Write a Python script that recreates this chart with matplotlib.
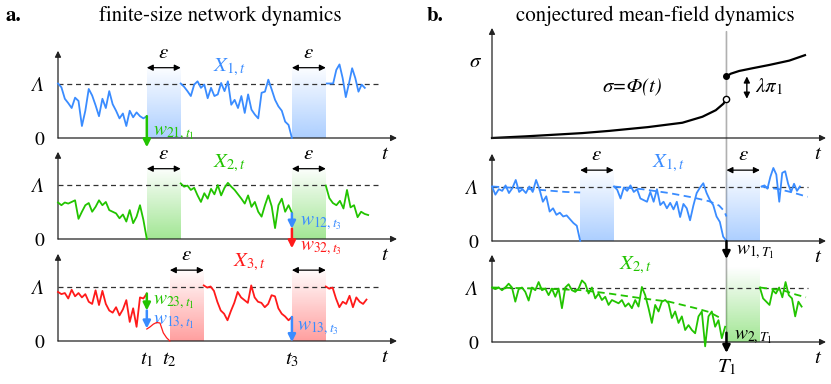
import matplotlib

matplotlib.use("Agg")
import matplotlib.pyplot as plt  # noqa: E402
import numpy as np  # noqa: E402
from matplotlib.colors import to_rgb  # noqa: E402
from matplotlib.patches import ConnectionPatch  # noqa: E402

plt.rcParams["font.family"] = "STIXGeneral"
plt.rcParams["mathtext.fontset"] = "stix"

BLUE, GREEN, RED = "#3a8cff", "#22c400", "#ff1a1a"
LAMBDA = 1.0
EPS = 1.0

# ---- panel a: finite-size network, event times ----
T1_A, T2_A, T3_A = 2.62, 3.30, 6.90

# trace segments: (t_start, t_end)
X1_A = [
    (0.0, 2.62, [1.0, 0.93, 0.72, 0.64, 0.55, 0.74, 0.68, 0.22, 0.5, 0.9, 0.78, 0.6, 0.4, 0.72,
                 0.55, 0.86, 0.62, 0.5, 0.36, 0.45, 0.22, 0.5, 0.38, 0.47, 0.4, 0.36, 0.4]),
    (3.62, 6.90, [1.0, 0.94, 0.86, 0.77, 0.98, 1.04, 0.92, 0.98, 0.73, 0.92, 0.77, 0.8, 1.01, 0.86,
                  1.04, 0.61, 0.7, 0.55, 0.77, 0.46, 0.8, 0.52, 0.43, 0.36, 0.83, 0.85, 1.07, 0.89,
                  0.7, 0.58, 0.5, 0.3, 0.24, 0.0]),
    (7.93, 9.05, [1.0, 1.0, 1.0, 1.25, 1.35, 1.1, 0.75, 1.0, 1.28, 1.1, 0.85, 0.98, 0.92]),
]
X2_A = [
    (0.0, 2.62, [0.67, 0.62, 0.67, 0.65, 0.68, 0.71, 0.37, 0.5, 0.62, 0.66, 0.5, 0.59, 0.71, 0.62,
                 0.68, 0.53, 0.5, 0.47, 0.38, 0.45, 0.32, 0.53, 0.29, 0.41, 0.62, 0.35, 0.0]),
    (3.62, 6.90, [1.02, 0.96, 0.98, 0.9, 0.94, 0.8, 0.68, 0.84, 0.74, 0.92, 0.82, 0.99, 0.8, 0.94,
                  1.03, 0.96, 0.9, 0.82, 0.74, 0.65, 0.8, 0.59, 0.68, 0.5, 0.41, 0.62, 0.8, 0.6,
                  0.2, 0.62, 0.74, 0.5, 0.62, 0.48]),
    (7.90, 9.15, [0.98, 0.75, 0.66, 0.62, 0.7, 0.56, 0.9, 0.58, 0.62, 0.4, 0.5, 0.46, 0.44]),
]
X3_A = [
    (0.0, 2.62, [0.9, 0.86, 0.88, 0.78, 0.94, 0.82, 0.88, 0.8, 0.86, 0.72, 0.68, 0.93, 0.66, 0.92,
                 0.68, 0.56, 0.52, 0.62, 0.47, 0.58, 0.75, 0.35, 0.6, 0.26, 0.8, 0.78, 0.87]),
    (4.30, 6.90, [1.02, 0.98, 1.0, 0.92, 0.72, 0.56, 0.5, 0.38, 0.55, 0.7, 0.9, 0.8, 0.75, 0.7,
                  1.02, 0.8, 0.72, 0.7, 0.62, 0.68, 0.84, 0.82, 0.6, 0.5, 0.45, 0.38, 0.44]),
    (7.90, 9.10, [1.0, 0.96, 0.98, 0.78, 0.62, 0.72, 0.68, 0.83, 0.62, 0.8, 0.72, 0.68, 0.76]),
]
# X3 after the two kicks at t1, falling to 0 at t2 (thin line)
X3_A_KICKED = (T1_A, T2_A, [0.22, 0.26, 0.31, 0.34, 0.33, 0.15, 0.06, 0.0])

# kicks: (row, t, from, to, colour, label, label_t, label_y)
KICKS_A = [
    (0, T1_A, 0.40, -0.17, GREEN, r"$w_{21,t_1}$", 2.80, 0.09),
    (1, T3_A, 0.47, 0.19, BLUE, r"$w_{12,t_3}$", 7.15, 0.29),
    (1, T3_A, 0.19, -0.17, RED, r"$w_{32,t_3}$", 7.15, -0.17),
    (2, T1_A, 0.87, 0.56, GREEN, r"$w_{23,t_1}$", 2.80, 0.72),
    (2, T1_A, 0.56, 0.23, BLUE, r"$w_{13,t_1}$", 2.80, 0.35),
    (2, T3_A, 0.44, -0.02, BLUE, r"$w_{13,t_3}$", 7.05, 0.24),
]

# ---- panel b: conjectured mean-field dynamics ----
FIRE_B, T1_B = 2.64, 7.02

PHI_LOW_T = [0.0, 1.0, 2.0, 2.7, 3.5, 4.67, 5.7, 6.3, 6.7, 6.93, 7.02]
PHI_LOW = [0.0, 0.03, 0.065, 0.09, 0.13, 0.2, 0.28, 0.39, 0.51, 0.63, 0.72]
PHI_HIGH_T = [7.02, 7.15, 7.4, 7.8, 8.3, 8.9, 9.37]
PHI_HIGH = [1.13, 1.18, 1.23, 1.28, 1.34, 1.42, 1.52]

X1_B = [
    (0.0, 2.64, [1.0, 0.85, 0.95, 0.92, 1.02, 0.88, 0.97, 1.12, 0.9, 0.95, 0.88, 1.0, 0.9, 1.12,
                 0.95, 0.72, 0.82, 0.54, 0.6, 0.48, 0.52, 0.45, 0.47, 0.4, 0.33, 0.28, 0.0]),
    (3.65, 7.02, [1.0, 0.94, 0.78, 0.98, 0.92, 1.02, 0.9, 0.95, 0.78, 0.75, 0.72, 0.9, 0.72, 0.95,
                  0.66, 0.72, 0.6, 0.7, 0.58, 0.72, 0.44, 0.68, 0.6, 0.38, 0.65, 0.88, 0.98, 1.06,
                  0.88, 0.75, 0.66, 0.45, 0.35, 0.08, 0.0]),
    (8.07, 9.22, [1.0, 1.02, 0.96, 1.18, 1.34, 1.22, 0.72, 1.25, 1.28, 1.05, 0.9, 1.05, 0.92, 1.0]),
]
X1_B_MEAN = [
    ([0.0, 0.8, 1.6, 2.2, 2.64], [1.0, 0.97, 0.93, 0.9, 0.89]),
    ([3.65, 4.5, 5.3, 6.0, 6.5, 6.8, 6.95, 7.02], [1.0, 0.95, 0.88, 0.8, 0.73, 0.65, 0.55, 0.45]),
    ([8.07, 8.6, 9.0, 9.45], [1.0, 0.95, 0.89, 0.81]),
]
X2_B = [
    (0.0, 6.98, [1.0, 0.97, 1.0, 0.95, 1.0, 1.07, 1.0, 0.74, 0.97, 1.0,
                 0.92, 0.76, 1.0, 0.95, 1.1, 0.95, 0.98, 0.86, 0.98, 0.83,
                 0.98, 0.62, 1.0, 1.06, 0.95, 0.92, 0.98, 1.13, 1.07, 0.89,
                 1.0, 0.8, 0.89, 0.77, 0.83, 0.68, 0.77, 0.74, 0.71, 0.77,
                 0.65, 0.71, 0.62, 0.77, 0.65, 1.01, 0.86, 0.62, 0.35, 0.68,
                 0.56, 0.74, 0.77, 0.71, 0.44, 0.56, 0.35, 0.47, 0.22, 0.31,
                 0.22, 0.16, 0.47, 0.56, -0.08, 0.47, 0.56, 0.28, 0.4, 0.07, 0.28]),
    (8.02, 9.27, [1.0, 0.8, 0.74, 0.68, 0.95, 0.89, 1.0, 0.82, 1.1, 0.86, 0.8, 0.47, 0.74, 0.65]),
]
X2_B_MEAN = [
    ([0.0, 1.5, 2.7, 3.5, 4.5, 5.3, 6.1, 6.5, 6.9], [1.0, 0.98, 0.95, 0.89, 0.8, 0.74, 0.62, 0.55, 0.42]),
    ([8.02, 8.7, 9.1, 9.4], [1.0, 0.95, 0.87, 0.82]),
]

# ---- layout (pixels) ----
W, H = 831, 384
UNIT = 54.5  # pixels per unit of X
fig = plt.figure(figsize=(W / 100, H / 100), dpi=100, facecolor="white")


def row_axes(left, right, zero, top, yticks=True):
    ax = fig.add_axes([left / W, (H - zero) / H, (right - left) / W, top * UNIT / H])
    ax.set_xlim(0, 10)
    ax.set_ylim(0, top)
    ax.patch.set_alpha(0)
    for s in ax.spines.values():
        s.set_visible(False)
    ax.set_xticks([])
    if yticks:
        ax.set_yticks([0, LAMBDA], ["0", "Λ"], fontsize=14)
        ax.get_yticklabels()[1].set_fontstyle("italic")
    else:
        ax.set_yticks([])
    ax.tick_params(length=0, pad=10)
    kw = dict(arrowstyle="-|>", color="#222222", lw=0.9, mutation_scale=9, shrinkA=0, shrinkB=0)
    ax.annotate("", xy=(1, 0), xytext=(0, 0), xycoords=ax.get_yaxis_transform(),
                textcoords=ax.get_yaxis_transform(), arrowprops=kw, annotation_clip=False)
    ax.annotate("", xy=(0, 1), xytext=(0, 0), xycoords=ax.get_xaxis_transform(),
                textcoords=ax.get_xaxis_transform(), arrowprops=kw, annotation_clip=False)
    return ax


def t_label(ax, xfrac):
    ax.text(xfrac, -0.3, "$t$", transform=ax.get_yaxis_transform(), ha="center", va="center",
            fontsize=15)


def lambda_line(ax, t_end):
    ax.hlines(LAMBDA, 0, t_end, colors="#333333", lw=0.9, linestyles=(0, (4, 3)), zorder=3)


def shade(ax, t0, color, top=1.35):
    rgba = np.zeros((64, 1, 4))
    rgba[..., :3] = to_rgb(color)
    rgba[..., 3] = np.linspace(0.0, 0.42, 64)[:, None]
    ax.imshow(rgba, extent=(t0, t0 + EPS, 0, top), aspect="auto", origin="upper",
              interpolation="bilinear", zorder=0.5)


def eps_arrow(ax, t0, y=1.29, label=True):
    ax.annotate("", xy=(t0 + EPS, y), xytext=(t0, y),
                arrowprops=dict(arrowstyle="<|-|>", color="black", lw=0.9, mutation_scale=9,
                                shrinkA=0, shrinkB=0), annotation_clip=False)
    if label:
        ax.text(t0 + EPS / 2, y + 0.27, r"$\varepsilon$", ha="center", va="center", fontsize=15)


def trace(ax, segs, color, lw=1.3):
    for t0, t1, v in segs:
        ax.plot(np.linspace(t0, t1, len(v)), v, color=color, lw=lw, clip_on=False, zorder=4)


def mean(ax, segs, color):
    for t, v in segs:
        ax.plot(t, v, color=color, lw=1.3, ls=(0, (4, 2.5)), clip_on=False, zorder=4)


def kick(ax, t, v0, v1, color):
    ax.annotate("", xy=(t, v1), xytext=(t, v0),
                arrowprops=dict(arrowstyle="-|>", color=color, lw=1.8, mutation_scale=11,
                                shrinkA=0, shrinkB=0), annotation_clip=False, zorder=6)


def vline(axA, ya, axB, yb, t, color):
    con = ConnectionPatch(xyA=(t, ya), coordsA="data", axesA=axA, xyB=(t, yb), coordsB="data",
                          axesB=axB, color=color, lw=1.2, zorder=-1)
    fig.add_artist(con)


# ---------------- panel a ----------------
axa = [row_axes(58, 397, z, 1.6) for z in (138, 239, 341)]
for ax in axa:
    lambda_line(ax, 9.5)
    t_label(ax, 0.965)

shade(axa[0], T1_A, BLUE)
shade(axa[0], T3_A, BLUE)
shade(axa[1], T1_A, GREEN)
shade(axa[1], T3_A, GREEN)
shade(axa[2], T2_A, RED)
shade(axa[2], T3_A, RED)

trace(axa[0], X1_A, BLUE)
trace(axa[1], X2_A, GREEN)
trace(axa[2], X3_A, RED)
trace(axa[2], [X3_A_KICKED], RED, lw=0.9)

eps_arrow(axa[0], T1_A)
eps_arrow(axa[0], T3_A)
eps_arrow(axa[1], T1_A)
eps_arrow(axa[1], T3_A)
eps_arrow(axa[2], T2_A, y=1.3)
eps_arrow(axa[2], T3_A, y=1.3, label=False)

axa[0].text(5.07, 1.3, r"$X_{1,t}$", color=BLUE, fontsize=15, ha="center", va="center")
axa[1].text(5.07, 1.39, r"$X_{2,t}$", color=GREEN, fontsize=15, ha="center", va="center")
axa[2].text(5.66, 1.45, r"$X_{3,t}$", color=RED, fontsize=15, ha="center", va="center")

for row, t, v0, v1, c, lab, lt, ly in KICKS_A:
    kick(axa[row], t, v0, v1, c)
    axa[row].text(lt, ly, lab, color=c, fontsize=14, ha="left", va="center")

axa[2].set_xticks([T1_A, T2_A, T3_A], ["$t_1$", "$t_2$", "$t_3$"], fontsize=15)
axa[2].tick_params(axis="x", length=0, pad=6)

vline(axa[0], 1.52, axa[2], -0.17, T1_A, "#8c8c8c")
vline(axa[0], 1.48, axa[2], -0.17, T2_A, "#bdbdbd")
vline(axa[0], 1.52, axa[2], -0.17, T3_A, "#a8a8a8")

# ---------------- panel b ----------------
axs = row_axes(492, 826, 138, 2.02, yticks=False)
axb = [row_axes(492, 826, z, 1.6) for z in (241, 342)]
for ax in [axs] + axb:
    t_label(ax, 0.976)
for ax in axb:
    lambda_line(ax, 9.46)

axs.plot(PHI_LOW_T, PHI_LOW, color="black", lw=1.6, clip_on=False)
axs.plot(PHI_HIGH_T, PHI_HIGH, color="black", lw=1.6, clip_on=False)
axs.plot(T1_B, PHI_HIGH[0], "o", color="black", ms=4, zorder=5)
axs.plot(T1_B, PHI_LOW[-1], "o", mfc="white", mec="black", mew=1, ms=4.5, zorder=5)
axs.annotate("", xy=(7.63, PHI_HIGH[0]), xytext=(7.63, PHI_LOW[-1]),
             arrowprops=dict(arrowstyle="<|-|>", color="black", lw=1.0, mutation_scale=9,
                             shrinkA=0, shrinkB=0))
axs.text(7.87, 0.93, r"$\lambda\pi_1$", fontsize=15, ha="left", va="center")
axs.text(4.2, 0.93, "σ=Φ(t)", fontsize=15, fontstyle="italic", ha="center", va="center")
axs.text(-0.5, 1.39, r"$\sigma$", fontsize=15, ha="center", va="center")

shade(axb[0], FIRE_B, BLUE)
shade(axb[0], T1_B, BLUE)
shade(axb[1], T1_B, GREEN, top=1.38)

trace(axb[0], X1_B, BLUE)
mean(axb[0], X1_B_MEAN, BLUE)
trace(axb[1], X2_B, GREEN)
mean(axb[1], X2_B_MEAN, GREEN)

eps_arrow(axb[0], FIRE_B, y=1.3)
eps_arrow(axb[0], T1_B, y=1.3)

axb[0].text(5.27, 1.43, r"$X_{1,t}$", color=BLUE, fontsize=15, ha="center", va="center")
axb[1].text(4.28, 1.41, r"$X_{2,t}$", color=GREEN, fontsize=15, ha="center", va="center")

kick(axb[0], T1_B, 0.0, -0.33, "black")
axb[0].text(7.3, -0.2, r"$w_{1,T_1}$", fontsize=14, ha="left", va="center")
kick(axb[1], T1_B, 0.17, -0.2, "black")
axb[1].text(7.25, 0.09, r"$w_{2,T_1}$", fontsize=14, ha="left", va="center")

axb[1].set_xticks([T1_B], ["$T_1$"], fontsize=15)
axb[1].tick_params(axis="x", length=0, pad=11)

vline(axs, 1.95, axb[1], 0.0, T1_B, "#b0b0b0")

# ---------------- titles ----------------
fig.text(5 / W, 1 - 21 / H, "a.", fontsize=15, fontweight="bold", va="baseline")
fig.text(427 / W, 1 - 21 / H, "b.", fontsize=15, fontweight="bold", va="baseline")
fig.text(220 / W, 1 - 21 / H, "finite-size network dynamics", fontsize=15, ha="center",
         va="baseline")
fig.text(655 / W, 1 - 21 / H, "conjectured mean-field dynamics", fontsize=15, ha="center",
         va="baseline")

fig.savefig("out.png", dpi=100)
